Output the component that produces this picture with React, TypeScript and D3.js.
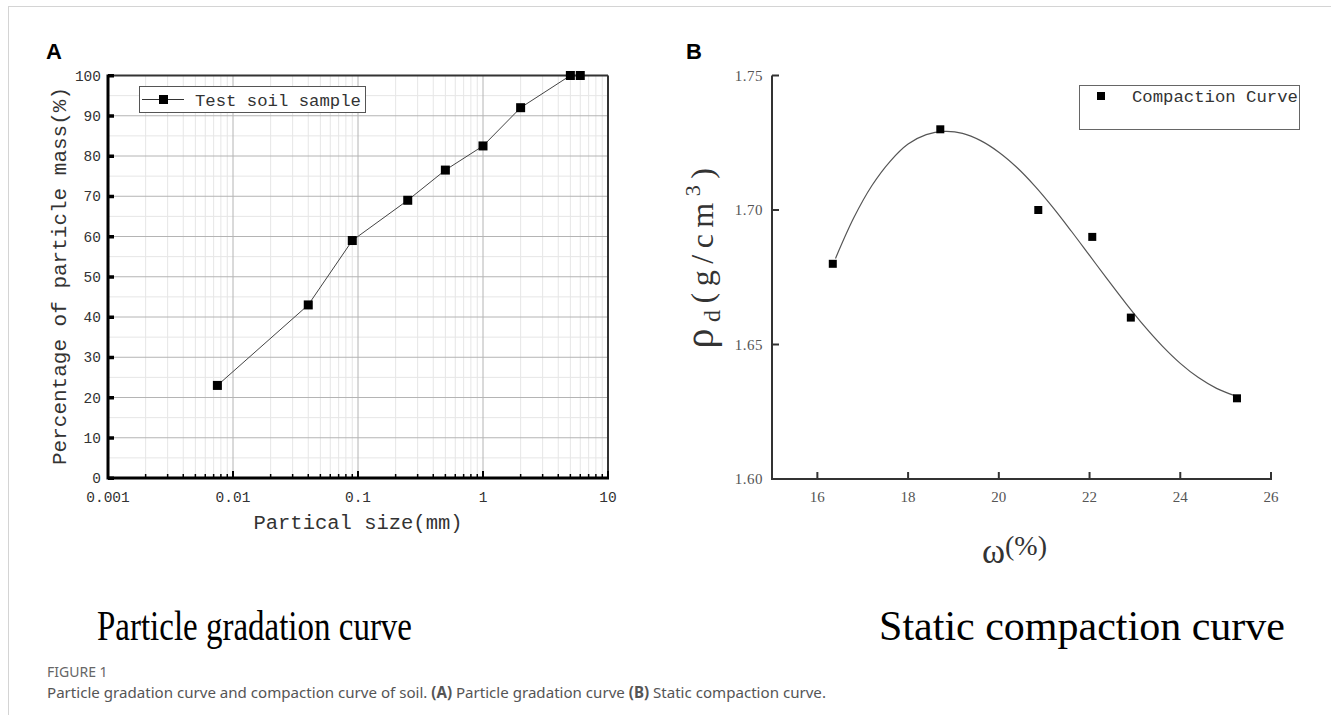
import React from "react";
import * as d3 from "d3";

// ---- Panel A: particle gradation ----
const particleSizes = [0.0075, 0.04, 0.09, 0.25, 0.5, 1, 2, 5, 6];
const percentPassing = [23, 43, 59, 69, 76.5, 82.5, 92, 100, 100];
const aYTicks = [0, 10, 20, 30, 40, 50, 60, 70, 80, 90, 100];
const aXTicks = [0.001, 0.01, 0.1, 1, 10];
const aXTickLabels = ["0.001", "0.01", "0.1", "1", "10"];

// ---- Panel B: static compaction ----
const moisture = [16.34, 18.71, 20.87, 22.06, 22.91, 25.25];
const dryDensity = [1.68, 1.73, 1.7, 1.69, 1.66, 1.63];
// fitted curve
const fitMoisture = [16.4, 16.8, 17.2, 17.6, 18.0, 18.4, 18.8, 19.2, 19.6, 20.0, 20.4, 20.8, 21.2, 21.6, 22.0, 22.4, 22.8, 23.2, 23.6, 24.0, 24.4, 24.8, 25.2];
const fitDensity = [1.682, 1.697, 1.709, 1.718, 1.7245, 1.728, 1.7292, 1.7285, 1.7258, 1.7215, 1.7158, 1.7088, 1.7008, 1.6921, 1.6831, 1.6741, 1.6653, 1.657, 1.6495, 1.643, 1.6377, 1.6337, 1.631];
const bXTicks = [16, 18, 20, 22, 24, 26];
const bYTicks = [1.6, 1.65, 1.7, 1.75];
const bYTickLabels = ["1.60", "1.65", "1.70", "1.75"];

const MONO = "'Liberation Mono', 'DejaVu Sans Mono', monospace";
const SERIF = "'Liberation Serif', 'DejaVu Serif', serif";
const SANS = "'Noto Sans', 'Liberation Sans', sans-serif";

export default function App() {
  // scales A
  const ax = d3.scaleLog().domain([0.001, 10]).range([108, 608]);
  const ay = d3.scaleLinear().domain([0, 100]).range([478, 75.5]);
  // scales B
  const bx = d3.scaleLinear().domain([15, 26]).range([772, 1271]);
  const by = d3.scaleLinear().domain([1.6, 1.75]).range([479, 75.5]);

  const aPts = particleSizes.map((s, i) => [ax(s), ay(percentPassing[i])] as [number, number]);
  const aLine = d3.line()(aPts) || "";

  const fitPts = fitMoisture.map((w, i) => [bx(w), by(fitDensity[i])] as [number, number]);
  const bCurve = d3.line().curve(d3.curveCatmullRom)(fitPts) || "";

  // minor log ticks
  const minorX: number[] = [];
  for (let e = -3; e < 1; e++) {
    for (let m = 2; m <= 9; m++) minorX.push(m * Math.pow(10, e));
  }
  const minorY = d3.range(5, 100, 10);

  const [x0, x1] = ax.range();
  const [y0, y1] = ay.range();

  return (
    <svg width={1331} height={715} style={{ position: "absolute", left: 0, top: 0, background: "#fff" }}>
      {/* page frame */}
      <line x1={8.5} y1={6} x2={8.5} y2={715} stroke="#d4d4d4" strokeWidth={1} />
      <line x1={8} y1={6.5} x2={1331} y2={6.5} stroke="#d4d4d4" strokeWidth={1} />

      {/* ===== Panel A ===== */}
      <text x={46} y={59} fontFamily="'Liberation Sans', Arial, sans-serif" fontWeight="bold" fontSize={22} fill="#000">A</text>
      {/* minor grid */}
      {minorX.map((v, i) => (
        <line key={"mx" + i} x1={ax(v)} x2={ax(v)} y1={y1} y2={y0} stroke="#e6e6e6" strokeWidth={1} />
      ))}
      {minorY.map((v, i) => (
        <line key={"my" + i} x1={x0} x2={x1} y1={ay(v)} y2={ay(v)} stroke="#e6e6e6" strokeWidth={1} />
      ))}
      {/* major grid */}
      {aXTicks.map((v, i) => (
        <line key={"gx" + i} x1={ax(v)} x2={ax(v)} y1={y1} y2={y0} stroke="#b4b4b4" strokeWidth={1} />
      ))}
      {aYTicks.map((v, i) => (
        <line key={"gy" + i} x1={x0} x2={x1} y1={ay(v)} y2={ay(v)} stroke="#b4b4b4" strokeWidth={1} />
      ))}
      {/* frame */}
      <line x1={x0} x2={x1} y1={y1} y2={y1} stroke="#333" strokeWidth={2} />
      <line x1={x1} x2={x1} y1={y1} y2={y0} stroke="#333" strokeWidth={2} />
      <line x1={x0} x2={x1 + 1} y1={y0} y2={y0} stroke="#000" strokeWidth={3} />
      <line x1={x0} x2={x0} y1={y1 - 1} y2={y0 + 1.5} stroke="#000" strokeWidth={3} />
      {/* y ticks */}
      {aYTicks.map((v, i) => (
        <rect key={"yt" + i} x={x0} y={ay(v) - 1.5} width={6} height={3.5} fill="#000" />
      ))}
      {aYTicks.map((v, i) => (
        <text key={"yl" + i} x={101} y={ay(v) + 5} textAnchor="end" fontFamily={MONO} fontSize={14.5} fill="#333">{v}</text>
      ))}
      {/* x ticks */}
      {minorX.map((v, i) => (
        <line key={"xm" + i} x1={ax(v)} x2={ax(v)} y1={y0} y2={y0 - 4} stroke="#000" strokeWidth={1.5} />
      ))}
      {aXTicks.map((v, i) => (
        <line key={"xM" + i} x1={ax(v)} x2={ax(v)} y1={y0} y2={y0 - 7} stroke="#000" strokeWidth={2} />
      ))}
      {aXTicks.map((v, i) => (
        <text key={"xl" + i} x={ax(v)} y={502} textAnchor="middle" fontFamily={MONO} fontSize={14.5} fill="#333">{aXTickLabels[i]}</text>
      ))}
      {/* axis titles */}
      <text x={358} y={529} textAnchor="middle" fontFamily={MONO} fontSize={20.5} fill="#333">Partical size(mm)</text>
      <text transform="translate(66,276) rotate(-90)" textAnchor="middle" fontFamily={MONO} fontSize={21} fill="#333">Percentage of particle mass(%)</text>
      {/* data */}
      <path d={aLine} fill="none" stroke="#444" strokeWidth={1} />
      {aPts.map((p, i) => (
        <rect key={"ap" + i} x={p[0] - 4.5} y={p[1] - 4.5} width={9} height={9} fill="#000" />
      ))}
      {/* legend */}
      <rect x={139.5} y={86.5} width={226} height={26} fill="#fff" stroke="#555" strokeWidth={1} />
      <line x1={142} x2={184} y1={99.5} y2={99.5} stroke="#333" strokeWidth={1} />
      <rect x={159} y={95} width={9} height={9} fill="#000" />
      <text x={195} y={105.5} fontFamily={MONO} fontSize={17.3} fill="#333">Test soil sample</text>

      {/* ===== Panel B ===== */}
      <text x={686} y={59} fontFamily="'Liberation Sans', Arial, sans-serif" fontWeight="bold" fontSize={22} fill="#000">B</text>
      <line x1={bx(15)} x2={bx(15)} y1={by(1.75)} y2={by(1.6)} stroke="#333" strokeWidth={2} />
      <line x1={bx(15) - 1} x2={bx(26) + 1} y1={by(1.6)} y2={by(1.6)} stroke="#333" strokeWidth={2} />
      {bYTicks.map((v, i) => (
        <g key={"by" + i}>
          <line x1={bx(15)} x2={bx(15) + 7} y1={by(v)} y2={by(v)} stroke="#333" strokeWidth={2} />
          <text x={763} y={by(v) + 5} textAnchor="end" fontFamily={SERIF} fontSize={15} fill="#555" letterSpacing={0.5}>{bYTickLabels[i]}</text>
        </g>
      ))}
      {bXTicks.map((v, i) => (
        <g key={"bx" + i}>
          <line x1={bx(v)} x2={bx(v)} y1={by(1.6)} y2={by(1.6) - 7} stroke="#333" strokeWidth={2} />
          <text x={bx(v)} y={502} textAnchor="middle" fontFamily={SERIF} fontSize={15} fill="#555">{v}</text>
        </g>
      ))}
      {/* axis titles */}
      <text transform="translate(713,255) rotate(-90)" textAnchor="middle" fontFamily={SERIF} fill="#333" letterSpacing={6.5}>
        <tspan fontSize={40}>ρ</tspan>
        <tspan fontSize={24} dy={7}>d</tspan>
        <tspan fontSize={32} dy={-7}>(g/cm</tspan>
        <tspan fontSize={22} dy={-13}>3</tspan>
        <tspan fontSize={32} dy={13}>)</tspan>
      </text>
      <text x={982} y={563} fontFamily={SERIF} fill="#333">
        <tspan fontSize={35}>ω</tspan>
        <tspan fontSize={28} dy={-8}>(%)</tspan>
      </text>
      {/* curve & points */}
      <path d={bCurve} fill="none" stroke="#555" strokeWidth={1.2} />
      {moisture.map((w, i) => (
        <rect key={"bp" + i} x={bx(w) - 4} y={by(dryDensity[i]) - 4} width={8} height={8} fill="#000" />
      ))}
      {/* legend */}
      <rect x={1079.5} y={85.5} width={220} height={44} fill="#fff" stroke="#666" strokeWidth={1} />
      <rect x={1097} y={92} width={8} height={8} fill="#000" />
      <text x={1132} y={102} fontFamily={MONO} fontSize={17.3} fill="#333">Compaction Curve</text>

      {/* panel titles */}
      <text x={97} y={640} textLength={315} lengthAdjust="spacingAndGlyphs" fontFamily={SERIF} fontSize={42} fill="#000">Particle gradation curve</text>
      <text x={1082} y={640} textAnchor="middle" fontFamily={SERIF} fontSize={42} fill="#000">Static compaction curve</text>

      {/* caption */}
      <text x={47} y={677} fontFamily={SANS} fontSize={14} fill="#666">FIGURE 1</text>
      <text x={47} y={698} fontFamily={SANS} fontSize={15.1} fill="#555">
        Particle gradation curve and compaction curve of soil. <tspan fontWeight="bold">(A)</tspan> Particle gradation curve <tspan fontWeight="bold">(B)</tspan> Static compaction curve.
      </text>
    </svg>
  );
}
